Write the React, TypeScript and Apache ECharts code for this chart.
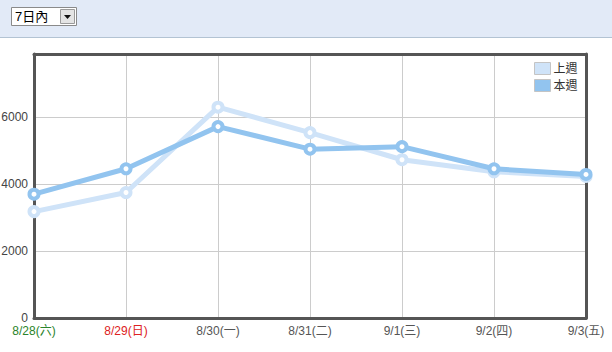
import React, { useEffect, useRef } from "react";
import * as echarts from "echarts";

const categories = ["8/28(六)", "8/29(日)", "8/30(一)", "8/31(二)", "9/1(三)", "9/2(四)", "9/3(五)"];
const labelColors = ["#2a842a", "#dd2222", "#555555", "#555555", "#555555", "#555555", "#555555"];
const lastWeek = [3180, 3750, 6300, 5540, 4730, 4370, 4230];
const thisWeek = [3700, 4460, 5720, 5045, 5120, 4460, 4290];
const seriesNames = ["上週", "本週"];
const seriesColors = ["#cfe3f8", "#92c4ef"];
const selectText = "7日內";
const yMax = 7890;
const yInterval = 2000;

const FONT = "'Liberation Sans', Arial, 'Noto Sans CJK TC', sans-serif";
const FRAME = { show: true, onZero: false, lineStyle: { color: "#555555", width: 3 } };

export default function App() {
  const ref = useRef<HTMLDivElement>(null);
  useEffect(() => {
    if (!ref.current) return;
    const chart = echarts.init(ref.current, null, { renderer: "svg" });
    const mkSeries = (idx: number, data: number[]) => ({
      name: seriesNames[idx],
      type: "line",
      data,
      symbol: "circle",
      symbolSize: 9,
      z: 5 + idx,
      lineStyle: { color: seriesColors[idx], width: 5 },
      itemStyle: { color: "#ffffff", borderColor: seriesColors[idx], borderWidth: 4 },
      emphasis: { disabled: true },
    });
    chart.setOption({
      animation: false,
      backgroundColor: "#ffffff",
      textStyle: { fontFamily: FONT },
      graphic: [
        { type: "rect", shape: { x: 0, y: 0, width: 612, height: 37 }, style: { fill: "#e2eaf7" }, silent: true },
        { type: "line", shape: { x1: 0, y1: 37.5, x2: 612, y2: 37.5 }, style: { stroke: "#b3c3d3", lineWidth: 1 }, silent: true },
        { type: "rect", shape: { x: 11.5, y: 7.5, width: 65, height: 18 }, style: { fill: "#ffffff", stroke: "#8a8a8a", lineWidth: 1 }, silent: true },
        { type: "rect", shape: { x: 60.5, y: 9.5, width: 14, height: 14 }, style: { fill: "#e4e4e4", stroke: "#9a9a9a", lineWidth: 1 }, silent: true },
        { type: "polygon", shape: { points: [[64, 15], [71, 15], [67.5, 19]] }, style: { fill: "#111111" }, silent: true },
        { type: "text", x: 15, y: 16.5, style: { text: selectText, fontSize: 13, fill: "#000000", fontFamily: FONT, verticalAlign: "middle", align: "left" }, silent: true },
      ],
      legend: {
        data: seriesNames.map((n, i) => ({ name: n, itemStyle: { color: seriesColors[i], borderColor: "#c4c4c4", borderWidth: 1 } })),
        orient: "vertical",
        left: 534,
        top: 62,
        padding: 0,
        itemWidth: 16,
        itemHeight: 12,
        itemGap: 4,
        icon: "rect",
        textStyle: { fontSize: 12, color: "#333333", fontFamily: FONT, padding: [0, 0, 0, -2] },
      },
      grid: {
        left: 34,
        right: 26,
        top: 54,
        bottom: 34,
        show: false,
        containLabel: false,
        outerBoundsMode: "none",
      },
      xAxis: [
        {
          type: "category",
          data: categories,
          boundaryGap: false,
          position: "bottom",
          axisLine: FRAME,
          axisTick: { show: false },
          splitLine: { show: true, lineStyle: { color: "#cccccc", width: 1 } },
          axisLabel: {
            margin: 7,
            fontSize: 12,
            fontFamily: FONT,
            interval: 0,
            color: (_v: string, i: number) => labelColors[i],
          },
        },
        {
          type: "category",
          data: categories,
          boundaryGap: false,
          position: "top",
          axisLine: FRAME,
          axisTick: { show: false },
          axisLabel: { show: false },
          splitLine: { show: false },
        },
      ],
      yAxis: [
        {
          type: "value",
          min: 0,
          max: yMax,
          interval: yInterval,
          position: "left",
          axisLine: FRAME,
          axisTick: { show: false },
          splitLine: { show: true, lineStyle: { color: "#cccccc", width: 1 } },
          axisLabel: {
            showMaxLabel: false,
            margin: 6,
            fontSize: 12,
            color: "#444444",
            fontFamily: FONT,
            formatter: (v: number) => String(v),
          },
        },
        {
          type: "value",
          min: 0,
          max: yMax,
          interval: yInterval,
          position: "right",
          axisLine: FRAME,
          axisTick: { show: false },
          axisLabel: { show: false },
          splitLine: { show: false },
        },
      ],
      series: [mkSeries(0, lastWeek), mkSeries(1, thisWeek)],
    });
    return () => chart.dispose();
  }, []);
  return (
    <div style={{ position: "fixed", left: 0, top: 0, width: 612, height: 352 }}>
      <div ref={ref} style={{ width: 612, height: 352 }} />
    </div>
  );
}
